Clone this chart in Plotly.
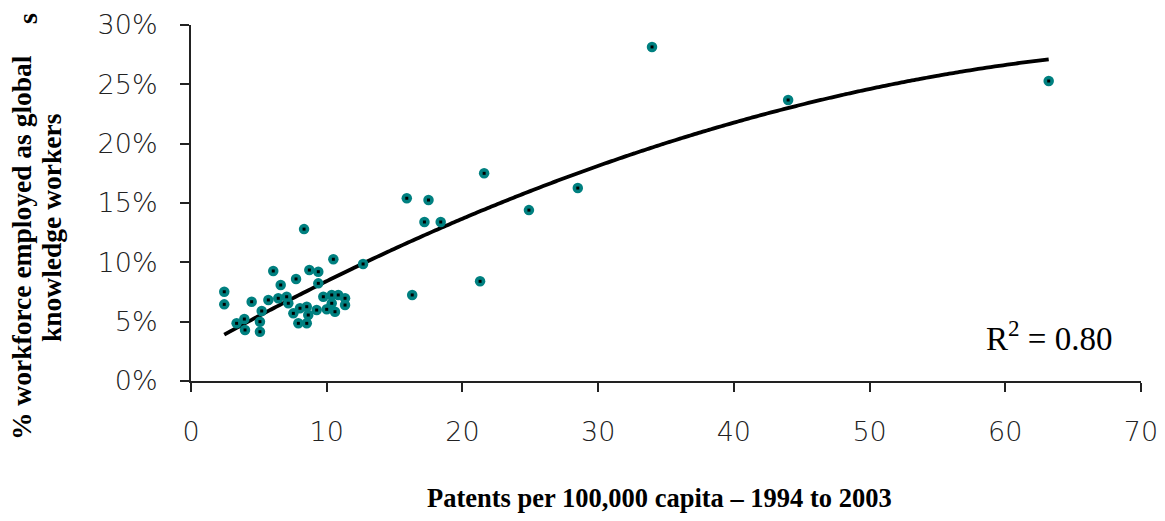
import numpy as np
import plotly.graph_objects as go

# Patents per 100,000 capita (1994-2003) and share of workforce employed as
# global knowledge workers (%), one entry per economy.
patents = [
    33.97, 44.0, 63.2, 28.5, 24.9, 21.6, 21.3, 16.3, 15.9, 17.5, 17.2, 18.4, 12.68,
    8.33,
    2.45, 2.45, 4.47, 6.06, 6.61, 5.70, 6.43, 7.05, 5.21, 5.08,
    3.93, 3.36, 3.98, 5.08,
    7.74, 8.72, 9.38, 10.49, 9.38, 10.37, 10.85, 11.35, 11.35, 10.37,
    10.0, 10.61, 9.26, 8.53, 8.03, 7.17, 8.64, 7.91, 8.53, 7.54, 9.75,
]
workforce_pct = [
    28.15, 23.68, 25.28, 16.26, 14.4, 17.5, 8.4, 7.25, 15.4, 15.25, 13.4, 13.4, 9.86,
    12.8,
    7.52, 6.46, 6.68, 9.27, 8.09, 6.83, 6.97, 7.10, 5.90, 5.00,
    5.22, 4.86, 4.30, 4.15,
    8.60, 9.35, 9.21, 10.26, 8.23, 7.25, 7.25, 6.97, 6.40, 6.55,
    6.04, 5.84, 5.98, 6.26, 6.13, 6.55, 5.56, 4.86, 4.86, 5.70, 7.10,
]

x_ticks = [0, 10, 20, 30, 40, 50, 60, 70]
y_ticks = [0, 5, 10, 15, 20, 25, 30]
y_tick_text = ["0%", "5%", "10%", "15%", "20%", "25%", "30%"]

x_title = "Patents per 100,000 capita \u2013 1994 to 2003"
y_title_lines = ["% workforce employed as global", "knowledge workers"]
r2_label = "R<sup>2</sup> = 0.80"

# Second-order polynomial trend line across the observed range
coef = np.polyfit(patents, workforce_pct, 2)
trend_x = np.linspace(min(patents), max(patents), 200)
trend_y = np.polyval(coef, trend_x)

W, H = 1165, 521
M_L, M_R, M_T, M_B = 191, 24, 25, 140
PW, PH = W - M_L - M_R, H - M_T - M_B


def px_to_paper(px, py):
    return (px - M_L) / PW, (H - M_B - py) / PH


fig = go.Figure()
fig.add_trace(go.Scatter(
    x=trend_x, y=trend_y, mode="lines",
    line=dict(color="black", width=3.8, shape="spline"),
    hoverinfo="skip", showlegend=False,
))
fig.add_trace(go.Scatter(
    x=patents, y=workforce_pct, mode="markers",
    marker=dict(color="#008080", size=10.5, line=dict(width=0)),
    showlegend=False,
))
fig.add_trace(go.Scatter(
    x=patents, y=workforce_pct, mode="markers",
    marker=dict(color="black", size=3, symbol="square", line=dict(width=0)),
    hoverinfo="skip", showlegend=False,
))

tick_font = dict(family="DejaVu Sans", size=27, color="#222222", weight=200)
axis_common = dict(
    showline=True, linecolor="#222222", linewidth=2,
    ticks="outside", ticklen=9, tickwidth=2, tickcolor="#222222",
    showgrid=False, zeroline=False, tickfont=tick_font, automargin=False,
)

fig.update_xaxes(range=[0, 70], tickvals=x_ticks, ticklabelstandoff=17, **axis_common)
fig.update_yaxes(range=[0, 30], tickvals=y_ticks, ticktext=y_tick_text,
                 ticklabelstandoff=17, **axis_common)

serif_bold = dict(family="Liberation Serif", size=27.5, color="black", weight="bold")

annotations = []
for (cx, cy), line in zip([(22, 248), (51, 228)], y_title_lines):
    ax, ay = px_to_paper(cx, cy)
    annotations.append(dict(x=ax, y=ay, xref="paper", yref="paper", text=line,
                            textangle=-90, showarrow=False, font=serif_bold,
                            xanchor="center", yanchor="middle"))
ax, ay = px_to_paper(659, 498)
annotations.append(dict(x=ax, y=ay, xref="paper", yref="paper", text=x_title,
                        showarrow=False, font=dict(serif_bold, size=26.5),
                        xanchor="center", yanchor="middle"))
ax, ay = px_to_paper(1049, 336)
annotations.append(dict(x=ax, y=ay, xref="paper", yref="paper", text=r2_label,
                        showarrow=False,
                        font=dict(family="Liberation Serif", size=33, color="black"),
                        xanchor="center", yanchor="middle"))
ax, ay = px_to_paper(27, 19)
annotations.append(dict(x=ax, y=ay, xref="paper", yref="paper", text="s",
                        textangle=-90, showarrow=False,
                        font=dict(family="Liberation Serif", size=28,
                                  color="black", weight="bold"),
                        xanchor="center", yanchor="middle"))

fig.update_layout(
    width=W, height=H,
    margin=dict(l=M_L, r=M_R, t=M_T, b=M_B, autoexpand=False),
    paper_bgcolor="white", plot_bgcolor="white",
    annotations=annotations,
    showlegend=False,
)

fig.write_html("out.html")
